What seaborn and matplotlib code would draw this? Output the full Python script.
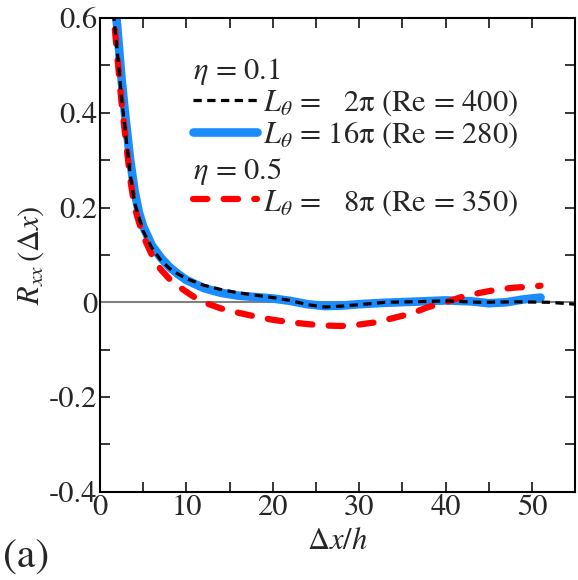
import numpy as np
import pandas as pd
import seaborn as sns
import matplotlib
matplotlib.use("Agg")
import matplotlib.pyplot as plt
from matplotlib.lines import Line2D
from matplotlib.ticker import MultipleLocator, FuncFormatter

# ---- data ----
x_k = [1.0, 1.5, 2.0, 2.5, 3.0, 3.5, 4.0, 5.0, 6.0, 7.0, 8.0, 9.0, 10, 12, 14, 16, 18, 20,
       22, 24, 26, 28, 30, 33, 36, 40, 44, 48, 52, 55]
r_k = [0.75, 0.62, 0.53, 0.43, 0.35, 0.27, 0.21, 0.15, 0.115, 0.09, 0.072, 0.06, 0.05, 0.036,
       0.027, 0.02, 0.015, 0.01, 0.004, -0.005, -0.01, -0.008, -0.005, 0.0, 0.001, 0.003,
       0.0, 0.001, 0.0, -0.004]

x_b = [1.5, 2.0, 2.5, 3.0, 3.5, 4.0, 4.5, 5.0, 6.0, 7.0, 8.0, 9.0, 10, 12, 14, 16, 18, 20,
       22, 24, 26, 28, 30, 33, 36, 40, 43, 45, 47, 49, 51]
r_b = [0.68, 0.58, 0.47, 0.38, 0.30, 0.235, 0.19, 0.16, 0.12, 0.095, 0.075, 0.06, 0.047,
       0.03, 0.02, 0.014, 0.011, 0.008, 0.003, -0.004, -0.008, -0.007, -0.004, -0.001,
       0.001, 0.004, 0.002, -0.002, 0.0, 0.006, 0.01]

x_r = [1.0, 1.5, 2.0, 2.5, 3.0, 3.5, 4.0, 5.0, 6.0, 7.0, 8.0, 9.0, 10, 11, 12, 14, 16, 18, 20,
       22, 24, 26, 28, 30, 32, 34, 36, 38, 40, 42, 44, 46, 48, 50, 51]
r_r = [0.76, 0.62, 0.52, 0.42, 0.34, 0.26, 0.20, 0.14, 0.10, 0.07, 0.05, 0.035, 0.022, 0.01,
       0.0, -0.013, -0.022, -0.03, -0.037, -0.042, -0.046, -0.049, -0.05, -0.047, -0.042,
       -0.033, -0.024, -0.01, 0.0, 0.012, 0.02, 0.027, 0.031, 0.033, 0.035]

labels = [r"$L_\theta$ =   2π (Re = 400)", r"$L_\theta$ = 16π (Re = 280)",
          r"$L_\theta$ =   8π (Re = 350)"]
headers = [r"$\eta$ = 0.1", r"$\eta$ = 0.5"]

sns.set_theme(style="ticks")
plt.rcParams["font.family"] = ["STIXGeneral", "DejaVu Serif"]
plt.rcParams["mathtext.fontset"] = "stix"

fig = plt.figure(figsize=(5.78, 5.80), dpi=100)
ax = fig.add_axes([0.173, 0.152, 0.822, 0.817])

ax.axhline(0, color="#808080", lw=1.5, zorder=1)

df_k = pd.DataFrame({"x": x_k, "r": r_k})
df_b = pd.DataFrame({"x": x_b, "r": r_b})
df_r = pd.DataFrame({"x": x_r, "r": r_r})

sns.lineplot(data=df_b, x="x", y="r", ax=ax, color="#1a8cff", lw=6.2,
             solid_capstyle="round", zorder=2)
sns.lineplot(data=df_r, x="x", y="r", ax=ax, color="#ff0000", lw=4.5, zorder=3)
ax.lines[-1].set_dashes([2.3, 2.6])
ax.lines[-1].set_dash_capstyle("round")
sns.lineplot(data=df_k, x="x", y="r", ax=ax, color="black", lw=2.3, zorder=4)
ax.lines[-1].set_dashes([2.6, 1.7])

ax.set_xlim(0, 55)
ax.set_ylim(-0.4, 0.6)
ax.xaxis.set_major_locator(MultipleLocator(10))
ax.xaxis.set_minor_locator(MultipleLocator(5))
ax.yaxis.set_major_locator(MultipleLocator(0.2))
ax.yaxis.set_minor_locator(MultipleLocator(0.1))
ax.yaxis.set_major_formatter(FuncFormatter(lambda v, p: "0" if abs(v) < 1e-9 else f"{v:.1f}"))
ax.xaxis.set_major_formatter(FuncFormatter(lambda v, p: f"{v:.0f}"))
ax.tick_params(which="both", direction="in", top=True, right=True, length=7, width=1.3,
               labelsize=22, pad=2)
for s in ax.spines.values():
    s.set_linewidth(1.5)
    s.set_color("black")

ax.set_xlabel(r"$\Delta x/h$", fontsize=22, labelpad=4)
ax.set_ylabel(r"$R_{xx}\,(\Delta x)$", fontsize=22, labelpad=2)
fig.text(0.005, 0.022, "(a)", fontsize=30)

h_k = Line2D([], [], color="black", lw=2.3, dashes=[2.6, 1.7])
h_b = Line2D([], [], color="#1a8cff", lw=6.2, solid_capstyle="round")
h_r = Line2D([], [], color="#ff0000", lw=4.5, dashes=[2.3, 2.6], dash_capstyle="round")

leg_kw = dict(loc="upper left", frameon=False, fontsize=22, title_fontsize=22,
              handlelength=2.1, handletextpad=0.2, labelspacing=0.04, borderpad=0,
              alignment="left")
leg1 = ax.legend([h_k, h_b], labels[:2], title=headers[0],
                 bbox_to_anchor=(0.163, 0.952), **leg_kw)
ax.add_artist(leg1)
leg2 = ax.legend([h_r], labels[2:], title=headers[1],
                 bbox_to_anchor=(0.163, 0.742), **leg_kw)

fig.savefig("out.png", dpi=100)
